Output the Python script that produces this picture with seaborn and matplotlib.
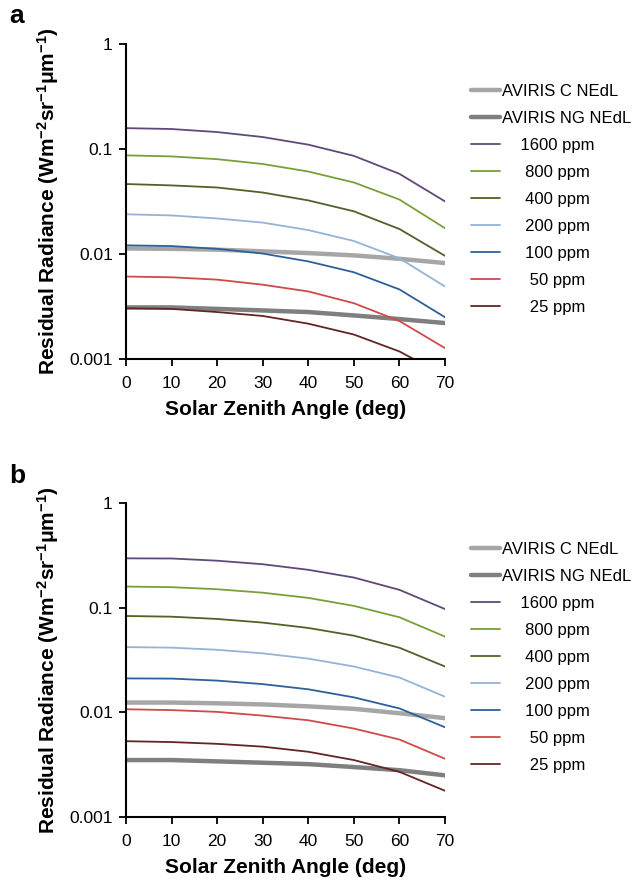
import numpy as np
import pandas as pd
import matplotlib
matplotlib.use("Agg")
import matplotlib.pyplot as plt
import seaborn as sns
from matplotlib.lines import Line2D

sns.set_theme(style="ticks")
plt.rcParams['font.family'] = ['Liberation Sans', 'DejaVu Sans']
plt.rcParams['mathtext.fontset'] = 'custom'
plt.rcParams['mathtext.rm'] = 'Liberation Sans'
plt.rcParams['mathtext.bf'] = 'Liberation Sans:bold'
plt.rcParams['mathtext.it'] = 'Liberation Sans:italic'
plt.rcParams['text.color'] = 'black'
plt.rcParams['axes.labelcolor'] = 'black'
plt.rcParams['xtick.color'] = 'black'
plt.rcParams['ytick.color'] = 'black'

# ---------------- data ----------------
angles = [0, 10, 20, 30, 40, 50, 60, 70]

series_names = ["1600 ppm", "800 ppm", "400 ppm", "200 ppm", "100 ppm", "50 ppm", "25 ppm"]

a_aviris_c = [0.0113, 0.0112, 0.0110, 0.0106, 0.0102, 0.0097, 0.0090, 0.0082]
a_aviris_ng = [0.0031, 0.0031, 0.0030, 0.0029, 0.0028, 0.0026, 0.0024, 0.0022]
a_1600 = [0.158, 0.155, 0.145, 0.130, 0.110, 0.086, 0.058, 0.0317]
a_800 = [0.087, 0.085, 0.080, 0.072, 0.061, 0.048, 0.033, 0.0176]
a_400 = [0.0464, 0.045, 0.043, 0.0385, 0.0324, 0.0255, 0.0173, 0.0096]
a_200 = [0.0239, 0.0233, 0.0218, 0.0199, 0.0169, 0.0133, 0.0091, 0.0049]
a_100 = [0.0121, 0.0119, 0.0112, 0.0101, 0.0085, 0.0067, 0.0046, 0.0025]
a_50 = [0.0061, 0.0060, 0.0057, 0.0051, 0.0044, 0.0034, 0.0023, 0.00127]
a_25 = [0.00304, 0.0030, 0.0028, 0.00257, 0.00217, 0.00171, 0.00118, 0.00069]

b_aviris_c = [0.0124, 0.0124, 0.0122, 0.0119, 0.0114, 0.0108, 0.0098, 0.0088]
b_aviris_ng = [0.0035, 0.0035, 0.0034, 0.0033, 0.0032, 0.0030, 0.0028, 0.0025]
b_1600 = [0.296, 0.295, 0.281, 0.260, 0.230, 0.194, 0.148, 0.097]
b_800 = [0.159, 0.157, 0.150, 0.139, 0.124, 0.104, 0.081, 0.0529]
b_400 = [0.0833, 0.082, 0.078, 0.072, 0.064, 0.054, 0.0414, 0.0274]
b_200 = [0.042, 0.0415, 0.0396, 0.0366, 0.0326, 0.0274, 0.0215, 0.0141]
b_100 = [0.0211, 0.021, 0.0201, 0.0186, 0.0166, 0.0139, 0.0109, 0.0072]
b_50 = [0.0107, 0.0105, 0.0101, 0.0093, 0.0084, 0.0070, 0.0055, 0.0036]
b_25 = [0.0053, 0.0052, 0.0050, 0.0047, 0.0042, 0.0035, 0.0027, 0.00178]

x_ticks = [0, 10, 20, 30, 40, 50, 60, 70]
y_ticks = [0.001, 0.01, 0.1, 1]
y_ticklabels = ["0.001", "0.01", "0.1", "1"]

# ---------------- styles ----------------
colors = ["#60497A", "#77A03A", "#4F6228", "#95B3D7", "#2F5F9A", "#D04A48", "#632523"]
c_gray = "#A6A6A6"
ng_gray = "#7F7F7F"

fig = plt.figure(figsize=(6.35, 8.81), dpi=100)
W, H = 635, 881

def ax_rect(l, t, r, b):
    return [l / W, 1 - b / H, (r - l) / W, (b - t) / H]

panels = [
    ("a", ax_rect(126, 44, 445, 359), a_aviris_c, a_aviris_ng,
     [a_1600, a_800, a_400, a_200, a_100, a_50, a_25], 23, 84),
    ("b", ax_rect(126, 503, 445, 817), b_aviris_c, b_aviris_ng,
     [b_1600, b_800, b_400, b_200, b_100, b_50, b_25], 483, 542),
]

label_pad = {"1600 ppm": "    ", "800 ppm": "     ", "400 ppm": "     ",
             "200 ppm": "     ", "100 ppm": "     ", "50 ppm": "      ",
             "25 ppm": "      "}

for letter, rect, cser, ngser, gas, letter_y, leg_top in panels:
    ax = fig.add_axes(rect)
    sns.lineplot(x=angles, y=cser, ax=ax, color=c_gray, lw=3.2, legend=False)
    sns.lineplot(x=angles, y=ngser, ax=ax, color=ng_gray, lw=3.2, legend=False)
    for vals, col in zip(gas, colors):
        sns.lineplot(x=angles, y=vals, ax=ax, color=col, lw=1.3, legend=False)
    ax.set_yscale("log")
    ax.set_ylim(0.001, 1)
    ax.set_xlim(0, 70)
    ax.set_xticks(x_ticks)
    ax.set_xticklabels([str(t) for t in x_ticks])
    ax.set_yticks(y_ticks)
    ax.set_yticklabels(y_ticklabels)
    ax.yaxis.set_minor_locator(matplotlib.ticker.NullLocator())
    ax.tick_params(axis="both", direction="out", length=5, width=1.3,
                   labelsize=12.5, color="black", labelcolor="black")
    ax.tick_params(axis="x", pad=7.5)
    ax.tick_params(axis="y", pad=4.5)
    for s in ["top", "right"]:
        ax.spines[s].set_visible(False)
    for s in ["left", "bottom"]:
        ax.spines[s].set_color("black")
        ax.spines[s].set_linewidth(1.5)
    ax.set_xlabel("Solar Zenith Angle (deg)", fontsize=15, fontweight="bold", labelpad=6)
    ax.set_ylabel(r"Residual Radiance (Wm$^{\mathbf{-2}}$sr$^{\mathbf{-1}}$$\mathbf{\mu}$m$^{\mathbf{-1}}$)",
                  fontsize=15, fontweight="bold", labelpad=6)
    ax.set_facecolor("white")

    handles = [Line2D([], [], color=c_gray, lw=3.2), Line2D([], [], color=ng_gray, lw=3.2)]
    labels = ["AVIRIS C NEdL", "AVIRIS NG NEdL"]
    for name, col in zip(series_names, colors):
        handles.append(Line2D([], [], color=col, lw=1.3))
        labels.append(label_pad[name] + name)
    leg = fig.legend(handles, labels, loc="upper left",
                     bbox_to_anchor=(471 / W, 1 - leg_top / H), frameon=False,
                     fontsize=12, handlelength=1.75, handletextpad=0.1,
                     labelspacing=0.72, borderpad=0, borderaxespad=0)
    for t in leg.get_texts():
        t.set_color("black")

    fig.text(9 / W, 1 - letter_y / H, letter, fontsize=19, fontweight="bold",
             ha="left", va="baseline", color="black")

fig.savefig("out.png", dpi=100, facecolor="white")
